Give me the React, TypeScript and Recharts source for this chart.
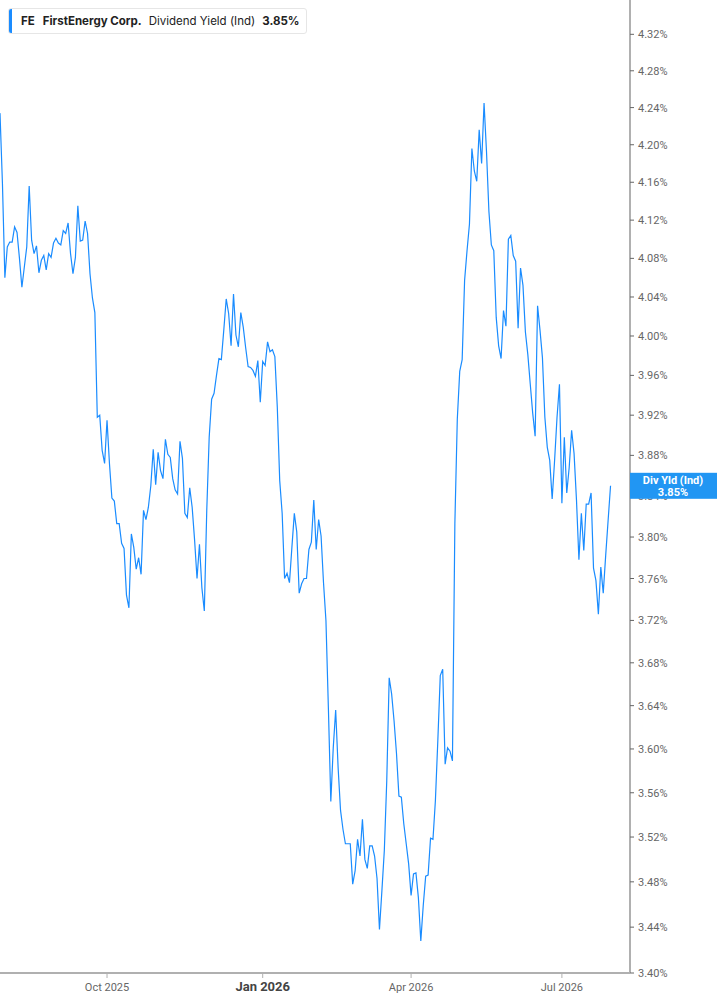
import React from 'react';
import { LineChart, Line, XAxis, YAxis } from 'recharts';

// one value per trading session (dividend yield, %)
const yields = [
  4.234, 4.159, 4.060, 4.092, 4.097, 4.097, 4.113, 4.107, 4.080, 4.050,
  4.071, 4.092, 4.156, 4.099, 4.085, 4.093, 4.065, 4.078, 4.083, 4.068,
  4.085, 4.081, 4.096, 4.101, 4.096, 4.094, 4.109, 4.106, 4.117, 4.085,
  4.064, 4.081, 4.135, 4.098, 4.099, 4.119, 4.106, 4.064, 4.039, 4.024,
  3.918, 3.920, 3.885, 3.872, 3.915, 3.872, 3.838, 3.835, 3.813, 3.813,
  3.794, 3.789, 3.744, 3.732, 3.803, 3.790, 3.769, 3.780, 3.764, 3.826,
  3.817, 3.829, 3.850, 3.886, 3.851, 3.883, 3.865, 3.857, 3.896, 3.881,
  3.878, 3.857, 3.846, 3.842, 3.894, 3.877, 3.823, 3.819, 3.848, 3.829,
  3.797, 3.760, 3.793, 3.751, 3.729, 3.826, 3.898, 3.936, 3.942, 3.960,
  3.977, 3.976, 4.006, 4.038, 4.023, 3.990, 4.043, 4.001, 3.989, 4.024,
  4.009, 3.988, 3.969, 3.968, 3.965, 3.959, 3.975, 3.933, 3.974, 3.970,
  3.994, 3.984, 3.986, 3.979, 3.928, 3.855, 3.823, 3.760, 3.765, 3.756,
  3.790, 3.823, 3.805, 3.746, 3.755, 3.760, 3.760, 3.788, 3.795, 3.836,
  3.788, 3.817, 3.801, 3.756, 3.720, 3.638, 3.552, 3.601, 3.636, 3.583,
  3.544, 3.527, 3.514, 3.514, 3.514, 3.478, 3.490, 3.518, 3.503, 3.536,
  3.500, 3.492, 3.512, 3.512, 3.503, 3.483, 3.438, 3.472, 3.508, 3.571,
  3.666, 3.651, 3.626, 3.596, 3.557, 3.556, 3.532, 3.514, 3.496, 3.468,
  3.487, 3.488, 3.466, 3.428, 3.459, 3.485, 3.486, 3.519, 3.518, 3.553,
  3.608, 3.668, 3.674, 3.586, 3.601, 3.598, 3.589, 3.813, 3.916, 3.964,
  3.976, 4.057, 4.088, 4.116, 4.196, 4.172, 4.161, 4.216, 4.180, 4.245,
  4.193, 4.129, 4.094, 4.088, 4.019, 3.990, 3.977, 4.026, 4.010, 4.100,
  4.104, 4.083, 4.077, 4.008, 4.070, 4.052, 4.004, 3.981, 3.951, 3.922,
  3.899, 4.031, 4.006, 3.978, 3.918, 3.888, 3.875, 3.837, 3.875, 3.918,
  3.951, 3.833, 3.898, 3.843, 3.868, 3.905, 3.882, 3.836, 3.778, 3.823,
  3.787, 3.832, 3.832, 3.843, 3.770, 3.758, 3.726, 3.771, 3.746, 3.782,
  3.816, 3.850,
];

// first trading session of each labelled month
const tickSessions = [44, 108, 169, 231];
const tickLabels = ['Oct 2025', 'Jan 2026', 'Apr 2026', 'Jul 2026'];
const boldLabels = ['Jan 2026'];

const yieldTicks = [
  3.40, 3.44, 3.48, 3.52, 3.56, 3.60, 3.64, 3.68, 3.72, 3.76, 3.80, 3.84,
  3.88, 3.92, 3.96, 4.00, 4.04, 4.08, 4.12, 4.16, 4.20, 4.24, 4.28, 4.32,
];

const lastYield = yields[yields.length - 1];

const data = yields.map((value, session) => ({ session, value }));

const FONT = 'Roboto, Arial, sans-serif';

const MonthTick = (props: any) => {
  const { x, y, payload } = props;
  const label = tickLabels[tickSessions.indexOf(payload.value)];
  const bold = boldLabels.includes(label);
  return (
    <text
      x={x}
      y={y + 11}
      textAnchor="middle"
      fontFamily={FONT}
      fontSize={bold ? 13 : 11}
      fontWeight={bold ? 700 : 400}
      fill={bold ? '#444' : '#666'}
    >
      {label}
    </text>
  );
};

// regular tick labels, plus the current-value tag drawn last so it sits on top
const YieldTick = (props: any) => {
  const { x, y, payload } = props;
  if (payload.value === lastYield) {
    const left = x - 6;
    return (
      <g>
        <rect x={left} y={y - 13} width={87} height={26} fill="#2196f3" />
        <text x={left + 43} y={y - 2} textAnchor="middle" fill="#fff" fontSize={11} fontWeight={700} fontFamily={FONT}>
          Div Yld (Ind)
        </text>
        <text x={left + 43} y={y + 10} textAnchor="middle" fill="#fff" fontSize={11} fontWeight={700} fontFamily={FONT}>
          {lastYield.toFixed(2)}%
        </text>
      </g>
    );
  }
  return (
    <text x={x + 2} y={y + 4} textAnchor="start" fill="#666" fontSize={11} fontFamily={FONT}>
      {`${payload.value.toFixed(2)}%`}
    </text>
  );
};

export default function App() {
  return (
    <div style={{ position: 'relative', width: 717, height: 1005, background: '#fff' }}>
      <style>{'body{margin:0}'}</style>
      <LineChart width={717} height={1005} data={data} margin={{ top: 0, right: 0, bottom: 0, left: 0 }}>
        <XAxis
          dataKey="session"
          type="number"
          domain={[0, 259]}
          ticks={tickSessions}
          tick={<MonthTick />}
          height={32}
          axisLine={{ stroke: '#b0b0b0', strokeWidth: 2 }}
          tickLine={{ stroke: '#b0b0b0' }}
          tickSize={5}
          interval={0}
        />
        <YAxis
          orientation="right"
          type="number"
          scale="log"
          domain={[3.4, 4.358]}
          allowDataOverflow
          ticks={[...yieldTicks, lastYield]}
          interval={0}
          width={87}
          axisLine={{ stroke: '#b0b0b0', strokeWidth: 2 }}
          tickLine={{ stroke: '#666' }}
          tickSize={4}
          tick={<YieldTick />}
        />
        <Line
          type="linear"
          dataKey="value"
          stroke="#1a8cff"
          strokeWidth={1.2}
          dot={false}
          activeDot={false}
          isAnimationActive={false}
        />
      </LineChart>
      <div
        style={{
          position: 'absolute',
          left: 8,
          top: 8,
          height: 24,
          display: 'flex',
          alignItems: 'center',
          padding: '0 7px 0 12px',
          border: '1px solid #e6e6e6',
          borderRadius: 3,
          background: '#fff',
          fontFamily: 'Inter, "Noto Sans", sans-serif',
          fontSize: 11.5,
          color: '#222',
          whiteSpace: 'nowrap',
          overflow: 'hidden',
        }}
      >
        <span style={{ position: 'absolute', left: 0, top: 0, bottom: 0, width: 3, background: '#1a8cff' }} />
        <b style={{ marginRight: 8 }}>FE</b>
        <b style={{ marginRight: 7 }}>FirstEnergy Corp.</b>
        <span style={{ marginRight: 7 }}>Dividend Yield (Ind)</span>
        <b>3.85%</b>
      </div>
    </div>
  );
}
